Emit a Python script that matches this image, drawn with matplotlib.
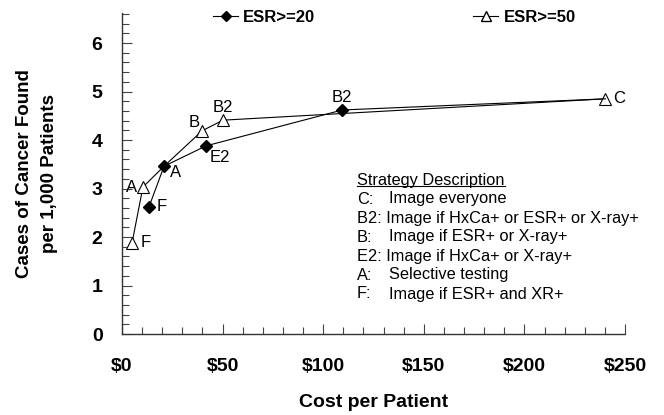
import matplotlib
matplotlib.use("Agg")
import matplotlib.pyplot as plt
from matplotlib.lines import Line2D
from matplotlib.transforms import IdentityTransform

# ---------------------------------------------------------------- data
# ESR>=20 strategies (filled diamonds)
esr20_cost = [13.4, 20.9, 41.8, 109.5, 240.3]
esr20_cases = [2.62, 3.46, 3.88, 4.62, 4.85]
esr20_tags = ["F", "A", "E2", "B2", None]

# ESR>=50 strategies (open triangles); 3rd point shares the ESR>=20 "A" point
esr50_cost = [5.0, 10.4, 20.9, 39.8, 50.2, 240.3]
esr50_cases = [1.88, 3.03, 3.46, 4.19, 4.41, 4.85]
esr50_tags = ["F", "A", None, "B", "B2", "C"]

x_ticks = [0, 50, 100, 150, 200, 250]
x_ticklabels = ["$0", "$50", "$100", "$150", "$200", "$250"]
y_ticks = [0, 1, 2, 3, 4, 5, 6]

strategy_title = "Strategy Description"
strategy_lines = [
    ("C:", "Image everyone"),
    ("B2:", "Image if HxCa+ or ESR+ or X-ray+"),
    ("B:", "Image if ESR+ or X-ray+"),
    ("E2:", "Image if HxCa+ or X-ray+"),
    ("A:", "Selective testing"),
    ("F:", "Image if ESR+ and XR+"),
]

# ---------------------------------------------------------------- plot
plt.rcParams.update({"font.family": ["Liberation Sans", "DejaVu Sans"]})
fig = plt.figure(figsize=(6.64, 4.15), dpi=100)
ax = fig.add_axes([122 / 664, 81 / 415, 503 / 664, 321 / 415])

ax.plot(esr50_cost, esr50_cases, color="black", lw=0.8, marker="^", ms=8,
        mfc="white", mec="black", mew=0.8, markevery=[0, 1, 3, 4, 5],
        label="ESR>=50", zorder=3)
ax.plot(esr20_cost, esr20_cases, color="black", lw=0.8, marker="D", ms=6,
        mfc="black", mec="black", markevery=[0, 1, 2, 3],
        label="ESR>=20", zorder=4)

# point tags (offsets in points)
offs20 = {"F": (9.5, 0), "A": (8, -4.5), "E2": (10, -8.6), "B2": (0, 9)}
offs50 = {"F": (9.5, 0), "A": (-8, 0), "B": (-6, 6), "B2": (0, 9.4),
          "C": (9.5, 0)}
for xv, yv, tag in zip(esr20_cost, esr20_cases, esr20_tags):
    if tag:
        dx, dy = offs20[tag]
        ax.annotate(tag, (xv, yv), xytext=(dx, dy), textcoords="offset points",
                    ha="center", va="center", fontsize=12)
for xv, yv, tag in zip(esr50_cost, esr50_cases, esr50_tags):
    if tag:
        dx, dy = offs50[tag]
        ax.annotate(tag, (xv, yv), xytext=(dx, dy), textcoords="offset points",
                    ha="center", va="center", fontsize=12)

ax.set_xlim(0, 250)
ax.set_ylim(0, 6.62)
ax.set_xticks(x_ticks)
ax.set_xticklabels(x_ticklabels)
ax.set_yticks(y_ticks)
ax.set_xticks(range(0, 251, 10), minor=True)
ax.set_yticks([i * 0.2 for i in range(0, 34)], minor=True)
ax.tick_params(which="both", direction="in", color="#444", width=0.8)
ax.tick_params(which="major", length=7, labelsize=14, pad=0)
ax.tick_params(which="minor", length=5)
ax.tick_params(axis="x", which="major", pad=17)
ax.tick_params(axis="y", which="major", pad=14)
for lab in ax.get_xticklabels() + ax.get_yticklabels():
    lab.set_fontweight("bold")
for s in ("top", "right"):
    ax.spines[s].set_visible(False)
for s in ("left", "bottom"):
    ax.spines[s].set_color("#333")
    ax.spines[s].set_linewidth(1.0)

ax.set_xlabel("Cost per Patient", fontsize=14, fontweight="bold", labelpad=14)
ax.set_ylabel("Cases of Cancer Found\nper 1,000 Patients", fontsize=13.5,
              fontweight="bold", labelpad=24, linespacing=1.65)

# legend across the top
h20 = Line2D([], [], color="black", lw=0.8, marker="D", ms=5, mfc="black")
h50 = Line2D([], [], color="black", lw=0.8, marker="^", ms=7, mfc="white")
fig.legend([h20, h50], ["ESR>=20", "ESR>=50"], loc="center left",
           bbox_to_anchor=(213 / 664, 1 - 17 / 415), ncol=2, frameon=False,
           prop={"weight": "bold", "size": 12}, handlelength=1.5,
           handletextpad=0.3, columnspacing=9.5, borderaxespad=0, borderpad=0)

# strategy description block
x0 = (357 - 122) / 503
y0 = (334 - 180) / 321
dy = 19 / 321
title = ax.text(x0, y0, strategy_title, transform=ax.transAxes, fontsize=11.8,
                ha="left", va="center")
for i, (code, desc) in enumerate(strategy_lines, start=1):
    if len(code) > 2:
        ax.text(x0, y0 - i * dy, f"{code} {desc}", transform=ax.transAxes,
                fontsize=11.8, ha="left", va="center")
    else:
        ax.text(x0, y0 - i * dy, code, transform=ax.transAxes,
                fontsize=11.8, ha="left", va="center")
        ax.text(x0 + 32 / 503, y0 - i * dy, desc, transform=ax.transAxes,
                fontsize=11.8, ha="left", va="center")

fig.canvas.draw()
bb = title.get_window_extent()
fig.add_artist(Line2D([bb.x0, bb.x1], [bb.y0 + 1, bb.y0 + 1], color="black",
                      lw=0.8, transform=IdentityTransform()))

fig.savefig("out.png", dpi=100, facecolor="white")
